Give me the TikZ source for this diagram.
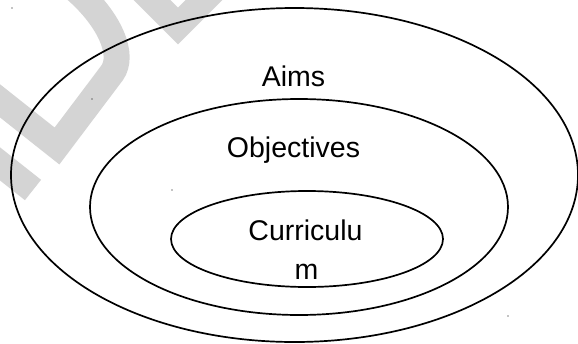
\documentclass[tikz,border=0pt]{standalone}
\usepackage{fontspec}
\setmainfont{Liberation Sans}
\usetikzlibrary{shapes.geometric}
\definecolor{wm}{RGB}{212,212,212}
\tikzset{
  ring/.style={draw=black, line width=1.7pt, shape=ellipse, inner sep=0pt},
  label/.style={anchor=base, inner sep=0pt, font=\fontsize{28.5}{34}\selectfont},
  mark stroke/.style={draw=wm, line width=26pt, line join=miter},
  speck/.style={fill=black, circle, inner sep=0pt, minimum size=1.3pt}
}
\begin{document}
\begin{tikzpicture}[x=1pt,y=1pt]
\useasboundingbox (0,0) rectangle (578,-343);
\begin{scope}
\clip (0,0) rectangle (578,-343);
% watermark
\draw[mark stroke] (76,10) .. controls (110,-20) and (125,-55) .. (112,-73) -- (57,-146) -- (-20,-85);
\draw[mark stroke, line cap=butt] (-10,-156) -- (33,-190);
\draw[mark stroke] (140,12) -- (178,-26) -- (216,12);
\end{scope}
% rings
\node[ring, minimum width=567pt, minimum height=334pt] (aims) at (294.5,-175) {};
\node[ring, minimum width=418pt, minimum height=216pt] (obj) at (299,-207) {};
\node[ring, minimum width=272pt, minimum height=96pt] (cur) at (307,-239) {};
% labels
\node[label] (taims) at (293.5,-86) {Aims};
\node[label] (tobj) at (293.5,-157) {Objectives};
\node[label] (tcur1) at (305.5,-240) {Curriculu};
\node[label] (tcur2) at (306.5,-279) {m};
% specks
\node[speck] (s1) at (12,-8) {};
\node[speck] (s2) at (92,-99) {};
\node[speck] (s3) at (172,-190) {};
\node[speck] (s4) at (508,-316) {};
\end{tikzpicture}
\end{document}
